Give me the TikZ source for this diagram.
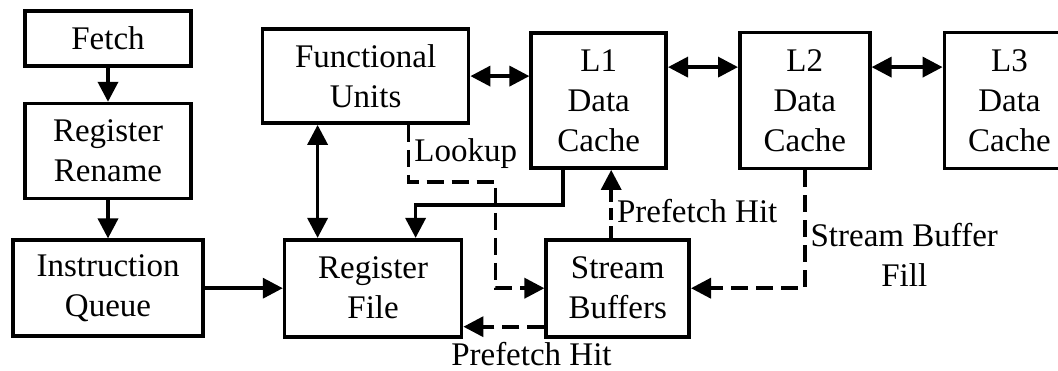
\documentclass[tikz,border=0pt]{standalone}
\usepackage{fontspec}
\setmainfont{Liberation Serif}
\usetikzlibrary{
  arrows.meta,
  positioning
}
\tikzset{
  >={Triangle[length=10pt, width=10pt]},
  block/.style={
    draw,
    line width=1.8pt,
    inner sep=0pt,
    minimum height=48pt,
    align=center,
    font=\fontsize{16.5}{20}\selectfont
  },
  cache/.style={block, minimum width=65pt, minimum height=68pt},
  arrow/.style={->, line width=1.8pt},
  biarrow/.style={<->, line width=1.8pt},
  dasharrow/.style={arrow, dash pattern=on 8.5pt off 4pt},
  note/.style={inner sep=2pt, align=center, font=\fontsize{16.5}{20}\selectfont}
}

\begin{document}
\begin{tikzpicture}[node distance=17pt]
  \useasboundingbox (0,0) rectangle (529pt,-185pt);

  \node[block, minimum width=83pt, minimum height=27.5pt] (fetch) at (54pt,-19.25pt) {Fetch};
  \node[block, minimum width=83pt, minimum height=47.5pt, below=17pt of fetch] (rename)
    {Register\\Rename};
  \node[block, minimum width=95pt, below=19pt of rename] (queue)
    {Instruction\\Queue};
  \node[block, minimum width=88.5pt, minimum height=48.5pt, right=39pt of queue] (regfile)
    {Register\\File};
  \node[block, minimum width=71.5pt, minimum height=48.5pt, right=40.5pt of regfile] (sbuf)
    {Stream\\Buffers};

  \node[block, minimum width=103pt, minimum height=47pt, above=56.5pt of regfile, xshift=-3.75pt] (funits)
    {Functional\\Units};
  \node[cache, minimum width=67.5pt, minimum height=67.5pt, right=29.5pt of funits, yshift=-12.25pt] (l1)
    {L1\\Data\\Cache};
  \node[cache, right=35pt of l1] (l2) {L2\\Data\\Cache};
  \node[cache, right=35.5pt of l2] (l3) {L3\\Data\\Cache};

  % front end
  \draw[arrow] (fetch) -- (rename);
  \draw[arrow] (rename) -- (queue);
  \draw[arrow] (queue) -- (regfile);

  % cache hierarchy
  \draw[biarrow] (funits.east) -- (funits.east -| l1.west);
  \draw[biarrow] ([yshift=16.75pt]l1.east) -- ([yshift=16.75pt]l2.west);
  \draw[biarrow] ([yshift=16.75pt]l2.east) -- ([yshift=16.75pt]l3.west);

  \coordinate (fubus) at ([xshift=-24pt]funits.south);
  \draw[biarrow] (fubus) -- (fubus |- regfile.north);

  \coordinate (l1out) at ([xshift=-17.75pt]l1.south);
  \coordinate (rfin) at ([xshift=21.25pt]regfile.north);
  \draw[arrow] (l1out) |- ([yshift=16.5pt]rfin) -- (rfin);

  % stream buffer paths
  \coordinate (fuout) at ([xshift=21.5pt]funits.south);
  \coordinate (lookturn) at ([xshift=43.5pt, yshift=-28.5pt]fuout);
  \draw[dasharrow] (fuout) |- node[note, pos=0.25, right] {Lookup} (lookturn) |- (sbuf.west);

  \coordinate (sbout) at ([xshift=-3.25pt]sbuf.north);
  \draw[dasharrow, dash pattern=on 6pt off 3pt] (sbout) -- node[note, pos=0.4, right] {Prefetch Hit}
    (sbout |- l1.south);

  \draw[dasharrow] (l2.south) |- node[note, pos=0.36, right=0pt] {Stream Buffer\\Fill} (sbuf.east);

  \draw[dasharrow] ([yshift=-19.25pt]sbuf.west) -- node[note, pos=0.16, below=5pt] {Prefetch Hit}
    ([yshift=-19.25pt]regfile.east);
\end{tikzpicture}
\end{document}
